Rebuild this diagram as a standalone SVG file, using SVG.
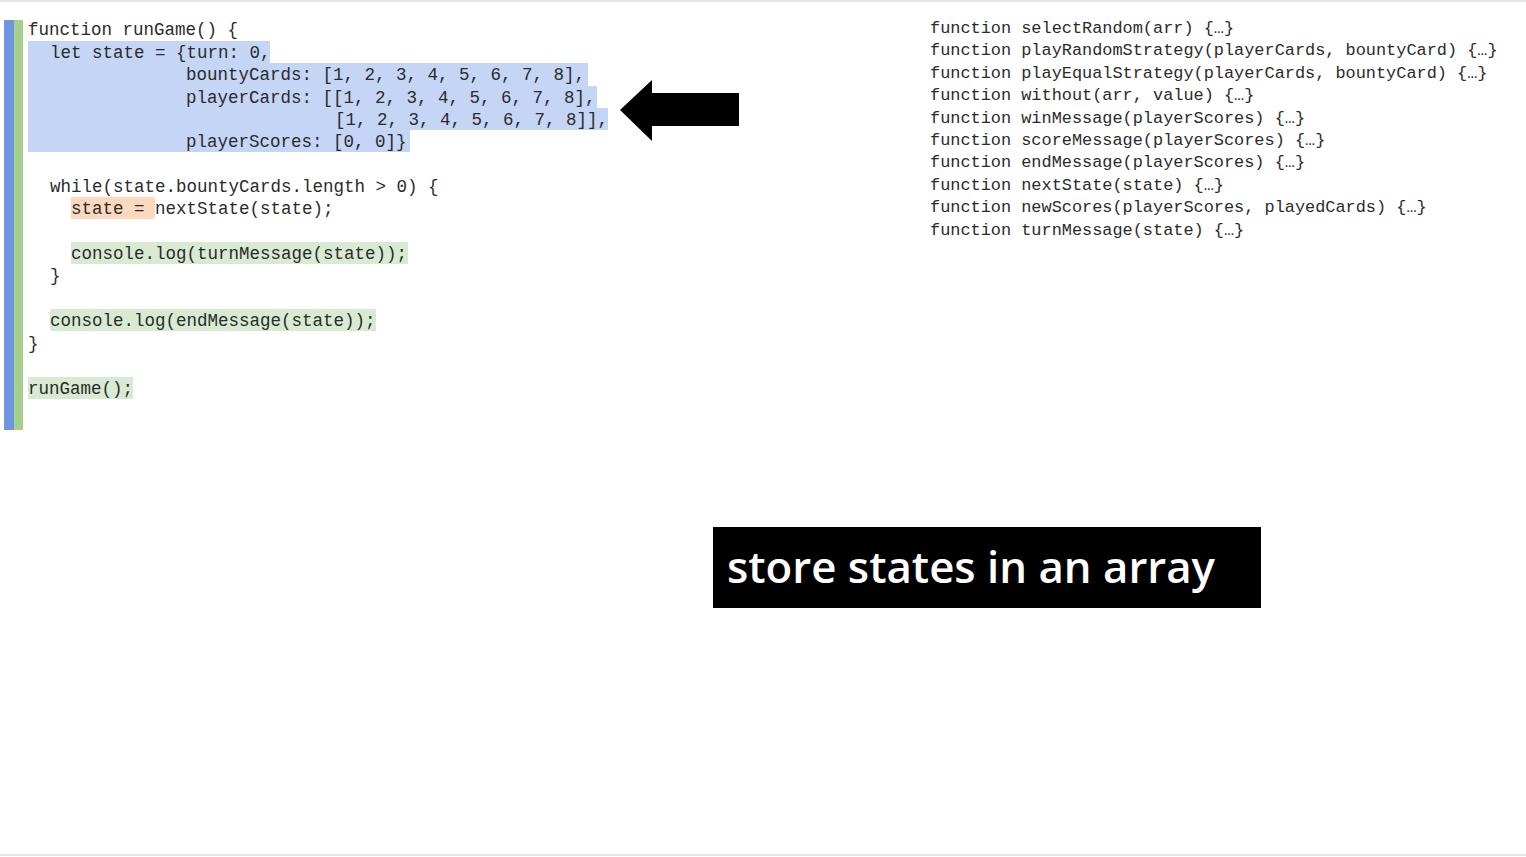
<svg xmlns="http://www.w3.org/2000/svg" width="1526" height="857" viewBox="0 0 1526 857">
<style>
.c{font-family:"Liberation Mono","DejaVu Sans Mono",monospace;font-size:17.5px;fill:#2b2b2b;white-space:pre}
.r{font-family:"Liberation Mono","DejaVu Sans Mono",monospace;font-size:16.9px;fill:#2b2b2b}
.g{fill:#d9ead3}
</style>
<rect width="1526" height="857" fill="#fff"/>
<line x1="0" y1="1" x2="1526" y2="1" stroke="#ccc"/>
<line x1="0" y1="855" x2="1526" y2="855" stroke="#ccc"/>
<g id="sidebar">
<rect x="4" y="20" width="10" height="410" fill="#6d95e0"/>
<rect x="14" y="20" width="9" height="410" fill="#a8d08d"/>
</g>
<g id="highlights">
<polygon points="28,41 270,41 270,63 588,63 588,86 597,86 597,108 608,108 608,130 410,130 410,152 28,152" fill="#c5d5f5"/>
<rect x="71" y="197" width="84" height="22" fill="#fbd9bf"/>
<rect class="g" x="71" y="242" width="337" height="22"/>
<rect class="g" x="50" y="309" width="326" height="22"/>
<rect class="g" x="28" y="377" width="105" height="22"/>
</g>
<g id="code">
<text class="c" x="28" y="35">function runGame() {</text>
<text class="c" x="50" y="58">let state = {turn: 0,</text>
<text class="c" x="186" y="80">bountyCards: [1, 2, 3, 4, 5, 6, 7, 8],</text>
<text class="c" x="186" y="103">playerCards: [[1, 2, 3, 4, 5, 6, 7, 8],</text>
<text class="c" x="335" y="125">[1, 2, 3, 4, 5, 6, 7, 8]],</text>
<text class="c" x="186" y="147">playerScores: [0, 0]}</text>
<text class="c" x="50" y="192">while(state.bountyCards.length &gt; 0) {</text>
<text class="c" x="71" y="214">state = nextState(state);</text>
<text class="c" x="71" y="259">console.log(turnMessage(state));</text>
<text class="c" x="50" y="281">}</text>
<text class="c" x="50" y="326">console.log(endMessage(state));</text>
<text class="c" x="28" y="349">}</text>
<text class="c" x="28" y="394">runGame();</text>
</g>
<g id="arrow">
<polygon points="620,110 652,80 652,93 739,93 739,126 652,126 652,141" fill="#000"/>
</g>
<g id="functions">
<text class="r" x="930" y="33">function selectRandom(arr) {…}</text>
<text class="r" x="930" y="55">function playRandomStrategy(playerCards, bountyCard) {…}</text>
<text class="r" x="930" y="78">function playEqualStrategy(playerCards, bountyCard) {…}</text>
<text class="r" x="930" y="100">function without(arr, value) {…}</text>
<text class="r" x="930" y="123">function winMessage(playerScores) {…}</text>
<text class="r" x="930" y="145">function scoreMessage(playerScores) {…}</text>
<text class="r" x="930" y="167">function endMessage(playerScores) {…}</text>
<text class="r" x="930" y="190">function nextState(state) {…}</text>
<text class="r" x="930" y="212">function newScores(playerScores, playedCards) {…}</text>
<text class="r" x="930" y="235">function turnMessage(state) {…}</text>
</g>
<g id="caption">
<rect x="713" y="527" width="548" height="81" fill="#000"/>
<text x="727" y="583" font-family="'Open Sans','Noto Sans',sans-serif" font-weight="600" font-size="43" fill="#fff" textLength="488" lengthAdjust="spacingAndGlyphs">store states in an array</text>
</g>
</svg>
